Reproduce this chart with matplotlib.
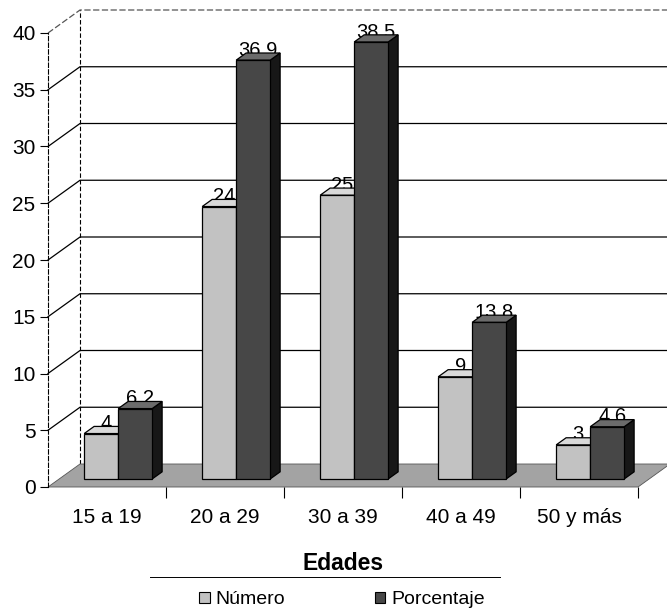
import numpy as np
import matplotlib.pyplot as plt
from matplotlib.patches import Polygon, Patch

plt.rcParams['font.family'] = ['Liberation Sans', 'DejaVu Sans']

edades = ['15 a 19', '20 a 29', '30 a 39', '40 a 49', '50 y más']
numero = [4, 24, 25, 9, 3]
porcentaje = [6.2, 36.9, 38.5, 13.8, 4.6]
yticks = [0, 5, 10, 15, 20, 25, 30, 35, 40]

c_num_front, c_num_top = '#c2c2c2', '#d9d9d9'
c_por_front, c_por_top, c_por_side = '#474747', '#6b6b6b', '#171717'
c_floor = '#a3a3a3'

fig = plt.figure(figsize=(6.67, 6.15), dpi=100)
# plot area: front of the floor from x=48px to 638px, y=0 at 487px, 40 at 33px
ax = fig.add_axes([48 / 667, 128 / 615, 590 / 667, 454 / 615])
ax.set_xlim(0, 5)
ax.set_ylim(0, 40)

# depth of the pseudo-3d box in data units
DX, DY = 32 / 118, 23 / 11.35
f0, f1 = 0.35, 0.66   # bars sit between these fractions of the depth
w = 34 / 118

# floor
ax.add_patch(Polygon([(0, 0), (5, 0), (5 + DX, DY), (DX, DY)], closed=True,
                     facecolor=c_floor, edgecolor='#555555', lw=0.6,
                     clip_on=False, zorder=1))

# back wall grid: diagonal from the axis, then across the wall
for v in yticks[1:]:
    ls = (0, (5, 2)) if v == 40 else '-'
    col = '#555555' if v == 40 else 'black'
    ax.plot([0, DX, 5 + DX + 0.2], [v, v + DY, v + DY], color=col, lw=0.9,
            ls=ls, clip_on=False, zorder=0.5)
ax.plot([DX, DX], [DY, 40 + DY], color='black', lw=0.8, ls=(0, (4, 2)),
        clip_on=False, zorder=0.5)


def bar3d(x, v, front, top, side):
    x0, y0 = x + f0 * DX, f0 * DY
    x1, y1 = x + f1 * DX, f1 * DY
    kw = dict(closed=True, edgecolor='black', lw=0.9, clip_on=False, zorder=3)
    ax.add_patch(Polygon([(x0 + w, y0), (x1 + w, y1), (x1 + w, y1 + v),
                          (x0 + w, y0 + v)], facecolor=side, **kw))
    ax.add_patch(Polygon([(x0, y0 + v), (x0 + w, y0 + v), (x1 + w, y1 + v),
                          (x1, y1 + v)], facecolor=top, **kw))
    ax.add_patch(Polygon([(x0, y0), (x0 + w, y0), (x0 + w, y0 + v),
                          (x0, y0 + v)], facecolor=front, **kw))
    # value label sits on the back edge of the top face, partly behind the bar
    lbl = f'{v:g}'
    ax.text(x + w / 2 + (f0 + f1) / 2 * DX, y1 + v + 0.25, lbl,
            ha='center', va='center', fontsize=14.5, zorder=2, clip_on=False)


for i in range(len(edades)):
    c = i + 0.5
    bar3d(c - w, numero[i], c_num_front, c_num_top, c_num_front)
    bar3d(c, porcentaje[i], c_por_front, c_por_top, c_por_side)

# axes, ticks and labels
for s in ['top', 'right', 'bottom']:
    ax.spines[s].set_visible(False)
ax.spines['left'].set_linestyle((0, (4, 2)))
ax.spines['left'].set_linewidth(0.8)
ax.set_yticks(yticks)
ax.tick_params(axis='y', length=6, width=0.8, pad=3, labelsize=15)
ax.set_xticks([1, 2, 3, 4, 5])
ax.set_xticklabels([])
ax.tick_params(axis='x', which='major', length=8, width=0.8)
ax.set_xticks(np.arange(len(edades)) + 0.5, minor=True)
ax.set_xticklabels(edades, minor=True)
ax.tick_params(axis='x', which='minor', length=0, pad=15, labelsize=15)
ax.set_xlabel('Edades', fontsize=16.5, fontweight='bold', labelpad=18)

handles = [Patch(facecolor=c_num_front, edgecolor='black', lw=0.8),
           Patch(facecolor=c_por_front, edgecolor='black', lw=0.8)]
fig.legend(handles, ['Número', 'Porcentaje'], ncol=2, frameon=False,
           loc='center', bbox_to_anchor=(342 / 667, 1 - 600 / 615),
           fontsize=14, handlelength=0.55, handleheight=0.55,
           handletextpad=0.3, columnspacing=4.6)
fig.add_artist(plt.Line2D([150 / 667, 500 / 667], [1 - 577 / 615] * 2,
                          color='black', lw=0.7))

fig.savefig('out.png', dpi=100)
